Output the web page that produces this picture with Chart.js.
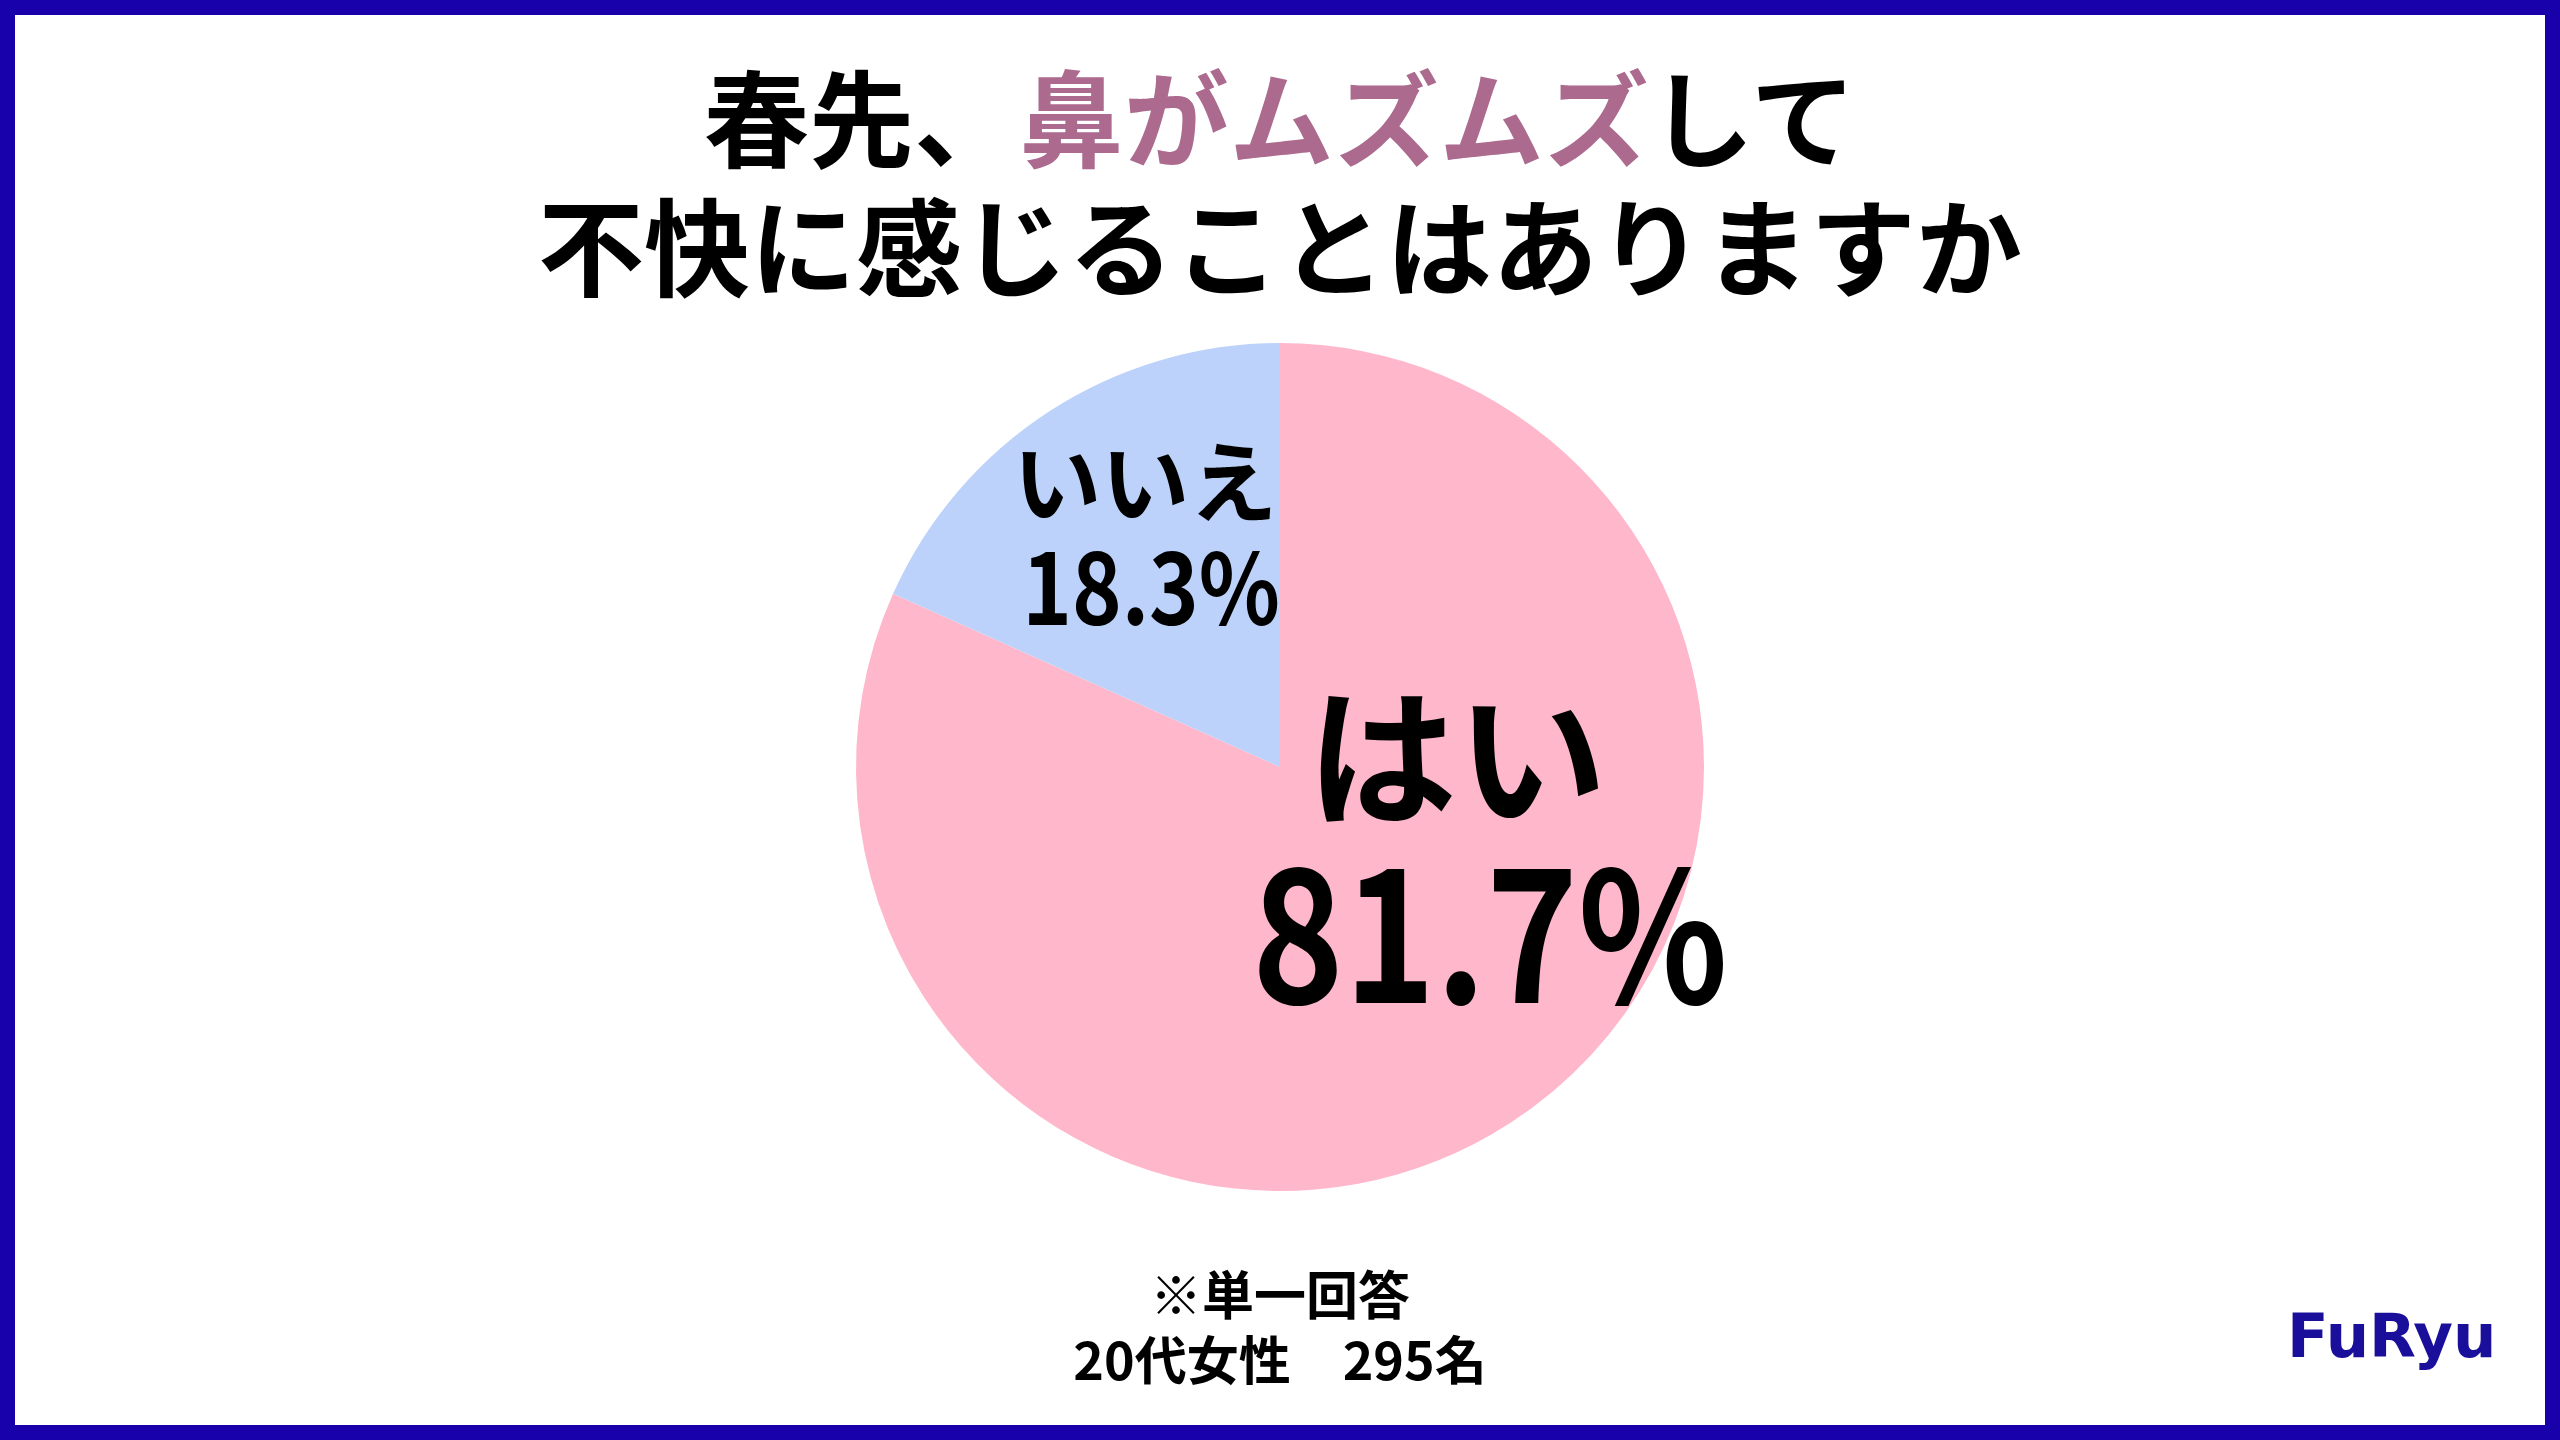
<!DOCTYPE html>
<html lang="ja">
<head>
<meta charset="utf-8">
<script src="https://cdn.jsdelivr.net/npm/chart.js@4/dist/chart.umd.min.js"></script>
<style>
  html, body { margin: 0; padding: 0; background: #ffffff; }
  #wrap { position: relative; width: 2560px; height: 1440px; overflow: hidden; background: #fff; }
  #frame { position: absolute; left: 0; top: 0; width: 2560px; height: 1440px; box-sizing: border-box; border: 15px solid #1800AA; pointer-events: none; z-index: 5; }
  #c { position: absolute; left: 0; top: 0; }
  .title { position: absolute; left: 0; width: 2560px; text-align: center; font-family: "Noto Sans CJK JP", sans-serif; font-weight: 700; font-size: 105px; line-height: 105px; color: #000; white-space: nowrap; z-index: 3; }
  .title .hl { color: #AB6A8E; }
  .note { position: absolute; left: 0; width: 2560px; text-align: center; font-family: "Noto Sans CJK JP", sans-serif; font-weight: 700; font-size: 52px; line-height: 52px; color: #000; white-space: pre; z-index: 3; }
  #logo { position: absolute; left: 2287px; top: 1305px; font-family: "DejaVu Sans", sans-serif; font-weight: 700; font-size: 61px; line-height: 61px; color: #1A0F9A; letter-spacing: 0px; z-index: 3; }
</style>
</head>
<body>
<div id="wrap">
  <canvas id="c" width="2560" height="1440"></canvas>
  <div class="title" style="top:61px">春先、<span class="hl">鼻がムズムズ</span>して</div>
  <div class="title" style="top:189px; font-size:106px; line-height:106px">不快に感じることはありますか</div>
  <div class="note" style="top:1267px">※単一回答</div>
  <div class="note" style="top:1332px">20代女性　295名</div>
  <div id="logo">FuRyu</div>
  <div id="frame"></div>
</div>
<script>
// ---- data ----
const categories = ["はい", "いいえ"];
const percentValues = [81.7, 18.3];
const percentLabels = ["81.7%", "18.3%"];

// ---- styles (kept separate from data) ----
const sliceColors = ["#FFB8CB", "#BDD2FA"];
// label placement relative to pie centre, as fractions of radius; baseline-based
const labelLayout = [
  { name: { dx: 0.417, dy: 0.111, size: 150 }, pct: { dx: 0.495, dy: 0.557, size: 181 } },
  { name: { dx: -0.318, dy: -0.594, size: 88 }, pct: { dx: -0.304, dy: -0.335, size: 98 } }
];
const pctSquash = 0.86;

const labelPlugin = {
  id: 'sliceLabels',
  afterDatasetsDraw(chart) {
    const ctx = chart.ctx;
    const meta = chart.getDatasetMeta(0);
    ctx.save();
    ctx.fillStyle = '#000';
    ctx.textAlign = 'center';
    ctx.textBaseline = 'alphabetic';
    meta.data.forEach((arc, i) => {
      const r = arc.outerRadius, cx = arc.x, cy = arc.y;
      const L = labelLayout[i];
      ctx.font = `700 ${L.name.size}px "Noto Sans CJK JP", sans-serif`;
      ctx.fillText(categories[i], cx + L.name.dx * r, cy + L.name.dy * r);
      ctx.font = `700 ${L.pct.size}px "Noto Sans CJK JP", sans-serif`;
      ctx.save();
      ctx.translate(cx + L.pct.dx * r, cy + L.pct.dy * r);
      ctx.scale(pctSquash, 1);
      ctx.fillText(percentLabels[i], 0, 0);
      ctx.restore();
    });
    ctx.restore();
  }
};

new Chart(document.getElementById('c'), {
  type: 'pie',
  data: {
    labels: categories,
    datasets: [{
      data: percentValues,
      backgroundColor: sliceColors,
      borderWidth: 0
    }]
  },
  options: {
    responsive: false,
    animation: false,
    rotation: 0,
    layout: { padding: { top: 343, bottom: 249, left: 0, right: 0 } },
    plugins: {
      legend: { display: false },
      tooltip: { enabled: false },
      title: { display: false }
    }
  },
  plugins: [labelPlugin]
});
</script>
</body>
</html>
